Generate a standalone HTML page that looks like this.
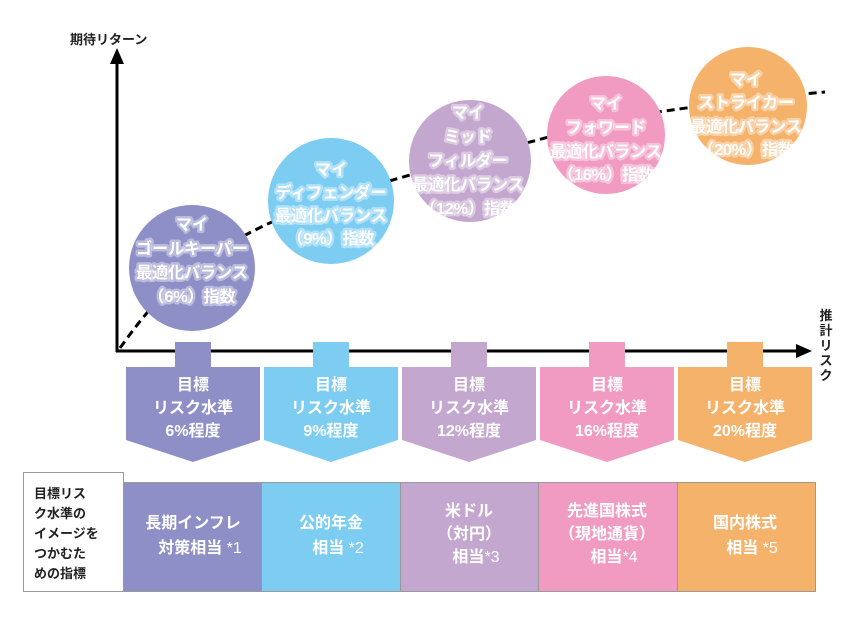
<!DOCTYPE html>
<html><head><meta charset="utf-8"><style>
html,body{margin:0;padding:0;background:#fff;}
svg text{font-family:"Liberation Sans","Noto Sans CJK JP",sans-serif;font-weight:bold;}
.w{fill:#fff;font-size:16px;text-anchor:middle;}
.gl{stroke:rgba(255,255,255,0.4);stroke-width:5px;paint-order:stroke;stroke-linejoin:round;}
.b{fill:#222;font-size:13px;}
</style></head><body>
<svg width="858" height="614" viewBox="0 0 858 614" xmlns="http://www.w3.org/2000/svg">
<line x1="117" y1="352" x2="117" y2="60" stroke="#000" stroke-width="3"/>
<polygon points="117,48 110,64 124,64" fill="#000"/>
<line x1="116" y1="351" x2="800" y2="351" stroke="#000" stroke-width="3"/>
<polygon points="812,351 796,344 796,358" fill="#000"/>
<text x="70" y="44" class="b">期待リターン</text>
<text x="826" y="320" text-anchor="middle" class="b">推</text>
<text x="826" y="335" text-anchor="middle" class="b">計</text>
<text x="826" y="350" text-anchor="middle" class="b">リ</text>
<text x="826" y="365" text-anchor="middle" class="b">ス</text>
<text x="826" y="380" text-anchor="middle" class="b">ク</text>
<path d="M120,348 C140,320 160,295 190,270 C230,240 280,215 335,198 C420,170 520,145 620,118 C700,105 770,97 825,92" fill="none" stroke="#000" stroke-width="3" stroke-dasharray="8,5"/>
<circle cx="192" cy="268" r="63" fill="#8e8fc7"/>
<circle cx="331" cy="201" r="63" fill="#7dcdf3"/>
<circle cx="470" cy="161" r="61" fill="#c4a7cf"/>
<circle cx="606" cy="135" r="59" fill="#f19bc3"/>
<circle cx="748" cy="106" r="59" fill="#f5b26b"/>
<g class="gl">
<text x="192" y="230" class="w gl">マイ</text>
<text x="192" y="254" class="w gl">ゴールキーパー</text>
<text x="192" y="278" class="w gl">最適化バランス</text>
<text x="192" y="302" class="w gl">（6%）指数</text>
<text x="331" y="175" class="w gl">マイ</text>
<text x="331" y="198" class="w gl">ディフェンダー</text>
<text x="331" y="221" class="w gl">最適化バランス</text>
<text x="331" y="244" class="w gl">（9%）指数</text>
<text x="468" y="118" class="w gl">マイ</text>
<text x="468" y="142" class="w gl">ミッド</text>
<text x="468" y="166" class="w gl">フィルダー</text>
<text x="468" y="190" class="w gl">最適化バランス</text>
<text x="468" y="214" class="w gl">（12%）指数</text>
<text x="606" y="109" class="w gl">マイ</text>
<text x="606" y="133" class="w gl">フォワード</text>
<text x="606" y="157" class="w gl">最適化バランス</text>
<text x="606" y="180" class="w gl">（16%）指数</text>
<text x="746" y="85" class="w gl">マイ</text>
<text x="746" y="108" class="w gl">ストライカー</text>
<text x="746" y="132" class="w gl">最適化バランス</text>
<text x="746" y="155" class="w gl">（20%）指数</text>
</g>
<path d="M175,342 h36 v25 h49 v73 l-67,22 l-67,-22 v-73 h49 z" fill="#8e8fc7"/>
<path d="M313,342 h36 v25 h49 v73 l-67,22 l-67,-22 v-73 h49 z" fill="#7dcdf3"/>
<path d="M451,342 h36 v25 h49 v73 l-67,22 l-67,-22 v-73 h49 z" fill="#c4a7cf"/>
<path d="M589,342 h36 v25 h49 v73 l-67,22 l-67,-22 v-73 h49 z" fill="#f19bc3"/>
<path d="M727,342 h36 v25 h49 v73 l-67,22 l-67,-22 v-73 h49 z" fill="#f5b26b"/>
<text x="193" y="390" class="w">目標</text><text x="193" y="413" class="w">リスク水準</text><text x="193" y="436" class="w">6%程度</text>
<text x="331" y="390" class="w">目標</text><text x="331" y="413" class="w">リスク水準</text><text x="331" y="436" class="w">9%程度</text>
<text x="469" y="390" class="w">目標</text><text x="469" y="413" class="w">リスク水準</text><text x="469" y="436" class="w">12%程度</text>
<text x="607" y="390" class="w">目標</text><text x="607" y="413" class="w">リスク水準</text><text x="607" y="436" class="w">16%程度</text>
<text x="745" y="390" class="w">目標</text><text x="745" y="413" class="w">リスク水準</text><text x="745" y="436" class="w">20%程度</text>
<rect x="23.5" y="472.5" width="100" height="119" fill="#fff" stroke="#999"/>
<rect x="123.5" y="482.5" width="138" height="109" fill="#8e8fc7" stroke="#999"/>
<rect x="261.5" y="482.5" width="139" height="109" fill="#7dcdf3" stroke="#999"/>
<rect x="400.5" y="482.5" width="138" height="109" fill="#c4a7cf" stroke="#999"/>
<rect x="538.5" y="482.5" width="139" height="109" fill="#f19bc3" stroke="#999"/>
<rect x="677.5" y="482.5" width="138" height="109" fill="#f5b26b" stroke="#999"/>
<text x="34" y="498" class="b" font-size="14">目標リス</text>
<text x="34" y="518" class="b" font-size="14">ク水準の</text>
<text x="34" y="538" class="b" font-size="14">イメージを</text>
<text x="34" y="558" class="b" font-size="14">つかむた</text>
<text x="34" y="578" class="b" font-size="14">めの指標</text>
<text x="193" y="528" class="w">長期インフレ</text>
<text x="200" y="553" class="w">対策相当 <tspan font-weight="normal">*1</tspan></text>
<text x="331" y="528" class="w">公的年金</text>
<text x="338" y="553" class="w">相当 <tspan font-weight="normal">*2</tspan></text>
<text x="469" y="516" class="w">米ドル</text>
<text x="469" y="539" class="w">（対円）</text>
<text x="476" y="562" class="w">相当<tspan font-weight="normal">*3</tspan></text>
<text x="607" y="516" class="w">先進国株式</text>
<text x="607" y="539" class="w">（現地通貨）</text>
<text x="614" y="562" class="w">相当<tspan font-weight="normal">*4</tspan></text>
<text x="745" y="528" class="w">国内株式</text>
<text x="752" y="553" class="w">相当 <tspan font-weight="normal">*5</tspan></text>
</svg>
</body></html>
